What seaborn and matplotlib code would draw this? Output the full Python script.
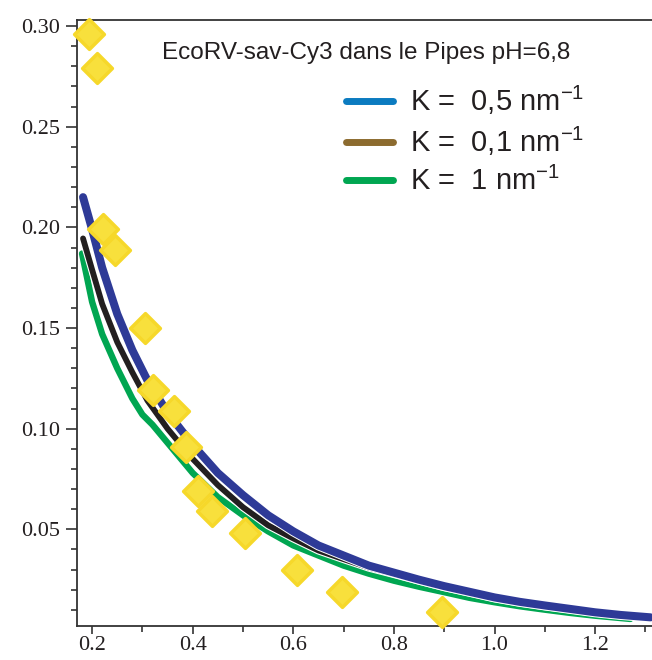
import numpy as np
import pandas as pd
import matplotlib
matplotlib.use("Agg")
import matplotlib.pyplot as plt
import matplotlib.patheffects as pe
from matplotlib.lines import Line2D
from matplotlib.ticker import MultipleLocator, FormatStrFormatter
import seaborn as sns

# experimental points (yellow diamonds)
x_exp = [0.194, 0.21, 0.222, 0.246, 0.305, 0.321, 0.362, 0.386, 0.41, 0.438, 0.503, 0.608, 0.697, 0.895]
y_exp = [0.296, 0.279, 0.199, 0.189, 0.150, 0.119, 0.109, 0.091, 0.069, 0.059, 0.048, 0.030, 0.019, 0.009]

# fitted curves
x_fit = [0.182, 0.20, 0.22, 0.25, 0.28, 0.31, 0.35, 0.40, 0.45, 0.50, 0.55, 0.60, 0.65,
         0.70, 0.75, 0.80, 0.85, 0.90, 0.95, 1.00, 1.05, 1.10, 1.15, 1.20, 1.25, 1.31]
y_k05 = [0.215, 0.199, 0.180, 0.157, 0.139, 0.124, 0.108, 0.092, 0.078, 0.067, 0.057, 0.049, 0.042,
         0.037, 0.032, 0.0285, 0.025, 0.0218, 0.019, 0.0162, 0.014, 0.0122, 0.0105, 0.0088, 0.0075, 0.0063]
y_k01 = [0.1945, 0.179, 0.162, 0.143, 0.128, 0.114, 0.100, 0.085, 0.072, 0.061, 0.052, 0.0455, 0.0395,
         0.0352, 0.031, 0.0278, 0.0245, 0.0213, 0.0186, 0.0158, 0.0136, 0.0118, 0.0102, 0.0086, 0.0073, 0.0061]
x_k1 = [0.18, 0.20, 0.22, 0.25, 0.28, 0.30, 0.32, 0.35, 0.40, 0.45, 0.50, 0.55, 0.60, 0.65,
        0.70, 0.75, 0.80, 0.85, 0.90, 0.95, 1.00, 1.05, 1.10, 1.15, 1.20, 1.27]
y_k1 = [0.187, 0.163, 0.147, 0.130, 0.115, 0.107, 0.102, 0.093, 0.078, 0.066, 0.057, 0.049, 0.042, 0.037,
        0.032, 0.028, 0.0245, 0.0215, 0.0188, 0.016, 0.0138, 0.0118, 0.0101, 0.0085, 0.0071, 0.0055]

legend_labels = ["K =  0,5 nm$^{-1}$", "K =  0,1 nm$^{-1}$", "K =  1 nm$^{-1}$"]
legend_colors = ["#0b7bc0", "#8c6b2f", "#00a651"]

sns.set_style("ticks")
plt.rcParams["mathtext.default"] = "regular"

fig = plt.figure(figsize=(6.52, 6.60), dpi=100)
ax = fig.add_axes([77 / 652, 34 / 660, 575 / 652, 606 / 660])

sns.lineplot(x=x_k1, y=y_k1, ax=ax, color="#00a651", lw=4.6, sort=False,
             path_effects=[pe.withStroke(linewidth=6.2, foreground="white")])
sns.lineplot(x=x_fit, y=y_k01, ax=ax, color="#231f20", lw=4.2, sort=False,
             path_effects=[pe.withStroke(linewidth=5.8, foreground="white")])
sns.lineplot(x=x_fit, y=y_k05, ax=ax, color="#2e3a97", lw=5.8, sort=False,
             path_effects=[pe.withStroke(linewidth=7.2, foreground="white")])

sns.scatterplot(x=x_exp, y=y_exp, ax=ax, marker="D", s=230, color="#f8e03c",
                edgecolor="#f6d82a", linewidth=2.5, zorder=5, clip_on=False)

ax.set_xlim(0.170, 1.313)
ax.set_ylim(0.002, 0.303)
ax.xaxis.set_major_locator(MultipleLocator(0.2))
ax.xaxis.set_minor_locator(MultipleLocator(0.1))
ax.yaxis.set_major_locator(MultipleLocator(0.05))
ax.yaxis.set_minor_locator(MultipleLocator(0.01))
ax.xaxis.set_major_formatter(FormatStrFormatter("%.1f"))
ax.yaxis.set_major_formatter(FormatStrFormatter("%.2f"))
ax.set_yticks([0.05, 0.10, 0.15, 0.20, 0.25, 0.30])

ax.tick_params(which="major", length=8, width=1.2, color="#333333",
               labelsize=16, labelcolor="#231f20", pad=4)
ax.tick_params(axis="x", which="major", length=6, pad=1.5)
ax.tick_params(which="minor", length=4, width=1.2, color="#333333")
for lab in ax.get_xticklabels() + ax.get_yticklabels():
    lab.set_family("Liberation Serif")

for side in ["left", "bottom", "top"]:
    ax.spines[side].set_linewidth(1.3)
    ax.spines[side].set_color("#333333")
ax.spines["right"].set_visible(False)
ax.set_xlabel("")
ax.set_ylabel("")

fig.text(162 / 652, 1 - 53 / 660, "EcoRV-sav-Cy3 dans le Pipes pH=6,8",
         fontsize=17.5, family="Liberation Sans", color="#231f20",
         ha="left", va="center")

handles = [Line2D([], [], color=c, lw=5) for c in legend_colors]
leg = ax.legend(handles, legend_labels, loc="upper left", bbox_to_anchor=(340 / 652, 1 - 78 / 660),
                bbox_transform=fig.transFigure, frameon=False,
                prop={"family": "Liberation Sans", "size": 21},
                handlelength=1.6, handletextpad=0.6, labelspacing=0.28, borderaxespad=0, borderpad=0.2)
for t in leg.get_texts():
    t.set_color("#231f20")

fig.savefig("out.png", dpi=100)
